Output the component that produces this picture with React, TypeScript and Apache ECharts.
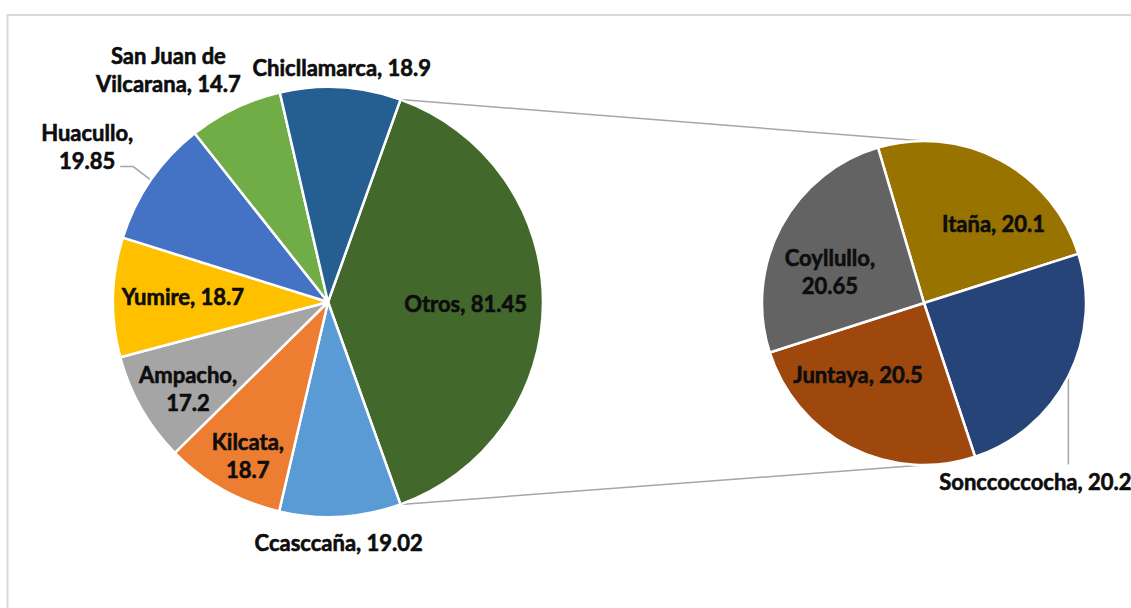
import React, { useEffect, useRef } from "react";
import * as echarts from "echarts";

// ---- data ----
const leftNames = ["Otros", "Ccasccaña", "Kilcata", "Ampacho", "Yumire", "Huacullo", "San Juan de Vilcarana", "Chicllamarca"];
const leftValues = [81.45, 19.02, 18.7, 17.2, 18.7, 19.85, 14.7, 18.9];
const rightNames = ["Itaña", "Sonccoccocha", "Juntaya", "Coyllullo"];
const rightValues = [20.1, 20.2, 20.5, 20.65];

// ---- style / layout ----
const leftColors = ["#43682B", "#5B9BD5", "#ED7D31", "#A5A5A5", "#FFC000", "#4472C4", "#70AD47", "#255E91"];
const rightColors = ["#997300", "#264478", "#9E480E", "#636363"];
// label line break: none | comma (after the comma) | name (inside the name)
const leftWrap = ["none", "none", "comma", "comma", "none", "comma", "name", "none"];
const rightWrap = ["none", "none", "none", "comma"];
// label spot: [radius factor along slice mid-angle, dx, dy]
const leftSpots = [[0.64, 0, 1], [1.12, -3, 0], [0.8, 4, 3], [0.76, 2, 5], [0.675, 0, -2], [1.275, -15, 0], [1.2, -48, 0], [1.09, 0, -1]];
const rightSpots = [[0.6, 24, 6], [1, -33, 105], [0.6, -22, -15], [0.65, -1, 18]];
const leftLeader = [false, false, false, false, false, true, false, false];
const rightLeader = [false, true, false, false];

const L = { cx: 328, cy: 302, r: 215 };
const R = { cx: 924, cy: 303, r: 162 };
const rightStart = 106.5;

const FONT = "Lato";
const FS = 22;
const LH = 28;

function fmt(name: string, value: number, wrap: string) {
  if (wrap === "comma") return `${name},\n${value}`;
  if (wrap === "name") {
    const i = name.lastIndexOf(" ");
    return `${name.slice(0, i)}\n${name.slice(i + 1)}, ${value}`;
  }
  return `${name}, ${value}`;
}

function midAngles(values: number[], start: number) {
  const total = values.reduce((a, b) => a + b, 0);
  let a = start;
  return values.map((v) => {
    const span = (v / total) * 360;
    const m = a - span / 2;
    a -= span;
    return m;
  });
}

export default function App() {
  const ref = useRef<HTMLDivElement>(null);
  useEffect(() => {
    const chart = echarts.init(ref.current!, undefined, { renderer: "svg" });
    const leftTotal = leftValues.reduce((a, b) => a + b, 0);
    const leftStart = (leftValues[0] / leftTotal) * 180;
    const lMid = midAngles(leftValues, leftStart);
    const rMid = midAngles(rightValues, rightStart);

    const polar = (g: any, angle: number, f: number) => {
      const rad = (angle * Math.PI) / 180;
      return [g.cx + Math.cos(rad) * g.r * f, g.cy - Math.sin(rad) * g.r * f];
    };

    const makeLayout = (g: any, mids: number[], spots: number[][], leaders: boolean[], kind: string) => (p: any) => {
      const i = p.dataIndex;
      const s = spots[i];
      const pt = polar(g, mids[i], s[0]);
      const x = pt[0] + s[1];
      const y = pt[1] + s[2];
      const out: any = { x, y, align: "center", verticalAlign: "middle" };
      if (leaders[i]) {
        const edge = polar(g, mids[i], 1);
        const h = p.labelRect ? p.labelRect.height : LH;
        if (kind === "side") {
          out.labelLinePoints = [edge, [x + 46, y + 20], [x + 33, y + 20]];
        } else {
          out.labelLinePoints = [edge, [edge[0], y - h / 2 - 3]];
        }
      }
      return out;
    };

    const labelBase = {
      fontFamily: FONT,
      fontSize: FS,
      fontWeight: "bold",
      color: "#0d0d0d",
      textBorderColor: "#0d0d0d",
      textBorderWidth: 0.6,
      lineHeight: LH,
      align: "center",
    };

    const leftData = leftNames.map((n, i) => ({
      name: n,
      value: leftValues[i],
      itemStyle: { color: leftColors[i] },
      label: { position: leftLeader[i] ? "outside" : "inside", formatter: fmt(n, leftValues[i], leftWrap[i]) },
      labelLine: { show: leftLeader[i] },
    }));
    const rightData = rightNames.map((n, i) => ({
      name: n,
      value: rightValues[i],
      itemStyle: { color: rightColors[i] },
      label: { position: rightLeader[i] ? "outside" : "inside", formatter: fmt(n, rightValues[i], rightWrap[i]) },
      labelLine: { show: rightLeader[i] },
    }));

    const top = polar(L, leftStart, 1);
    const bot = polar(L, -leftStart, 1);

    chart.setOption({
      animation: false,
      backgroundColor: "#ffffff",
      graphic: [
        {
          type: "rect",
          silent: true,
          z: -10,
          shape: { x: 7.5, y: 15, width: 1300, height: 800 },
          style: { fill: "none", stroke: "#d9d9d9", lineWidth: 2 },
        },
        {
          type: "line",
          silent: true,
          shape: { x1: top[0], y1: top[1], x2: R.cx, y2: R.cy - R.r },
          style: { stroke: "#a6a6a6", lineWidth: 1.5 },
        },
        {
          type: "line",
          silent: true,
          shape: { x1: bot[0], y1: bot[1], x2: R.cx, y2: R.cy + R.r },
          style: { stroke: "#a6a6a6", lineWidth: 1.5 },
        },
      ],
      series: [
        {
          type: "pie",
          center: [L.cx, L.cy],
          radius: [0, L.r],
          startAngle: leftStart,
          clockwise: true,
          avoidLabelOverlap: false,
          itemStyle: { borderColor: "#ffffff", borderWidth: 2.5 },
          label: labelBase,
          labelLine: { lineStyle: { color: "#a6a6a6", width: 1.5 }, smooth: false },
          labelLayout: makeLayout(L, lMid, leftSpots, leftLeader, "side"),
          emphasis: { disabled: true },
          data: leftData,
        },
        {
          type: "pie",
          center: [R.cx, R.cy],
          radius: [0, R.r],
          startAngle: rightStart,
          clockwise: true,
          avoidLabelOverlap: false,
          itemStyle: { borderColor: "#ffffff", borderWidth: 2.5 },
          label: labelBase,
          labelLine: { lineStyle: { color: "#a6a6a6", width: 1.5 }, smooth: false },
          labelLayout: makeLayout(R, rMid, rightSpots, rightLeader, "down"),
          emphasis: { disabled: true },
          data: rightData,
        },
      ],
    });
    return () => chart.dispose();
  }, []);
  return <div ref={ref} style={{ position: "absolute", left: 0, top: 0, width: 1131, height: 608 }} />;
}
